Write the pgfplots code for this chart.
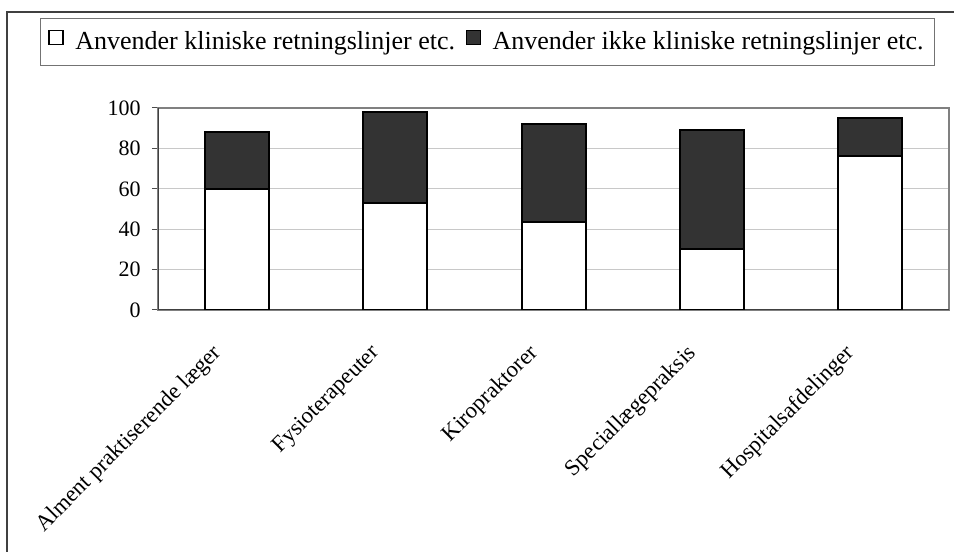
\documentclass[border=0pt]{standalone}
\usepackage{fontspec}
\setmainfont{Liberation Serif}
\usepackage{pgfplots}
\pgfplotsset{compat=1.18}
\definecolor{darkbar}{HTML}{333333}
\definecolor{gridc}{HTML}{C8C8C8}
\begin{document}
\begin{tikzpicture}
\useasboundingbox (0,0) rectangle (715.5pt,414pt);
\draw[black!75, line width=1.5pt] (5.25pt,-5pt) -- (5.25pt,405pt) -- (720pt,405pt);
\begin{axis}[
  at={(118.5pt,181.5pt)}, anchor=south west,
  scale only axis, width=593.25pt, height=151.5pt,
  ybar stacked, bar width=48pt,
  xmin=-0.5, xmax=4.5, ymin=0, ymax=100,
  xtick={0,1,2,3,4},
  xticklabels={Alment praktiserende læger,Fysioterapeuter,Kiropraktorer,Speciallægepraksis,Hospitalsafdelinger},
  minor xtick={-0.5,0.5,1.5,2.5,3.5,4.5},
  ytick={0,20,40,60,80,100},
  tick pos=left, tick align=outside,
  major tick length=4.5pt, minor tick length=4.5pt,
  xtick style={draw=none},
  minor tick style={black!70, line width=0.75pt},
  ytick style={black!70, line width=0.75pt},
  ymajorgrids, grid style={gridc, line width=0.75pt},
  axis line style={black!50, line width=1pt},
  /pgf/number format/assume math mode=true,
  ticklabel style={font=\fontsize{16.5}{19}\selectfont},
  yticklabel style={xshift=-5pt},
  xticklabel style={font=\fontsize{17}{20}\selectfont, xshift=-19.5pt, yshift=-20pt, rotate=45, anchor=north east, inner sep=0pt},
  legend columns=2,
  legend style={at={(-0.14918,1.44554)}, anchor=north west, draw=black!55, line width=0.75pt,
    font=\fontsize{19.5}{23}\selectfont, inner xsep=6pt, inner ysep=8pt,
    /tikz/every odd column/.append style={column sep=6.5pt},
    /tikz/every even column/.append style={column sep=6pt}},
  legend image code/.code={\draw[#1, line width=1.1pt] (0pt,-2pt) rectangle (10.5pt,8.5pt);},
]
\addplot[fill=white, draw=black, line width=1.5pt] coordinates {(0,60) (1,53) (2,43.5) (3,30) (4,76)};
\addlegendentry{Anvender kliniske retningslinjer etc.}
\addplot[fill=darkbar, draw=black, line width=1.5pt] coordinates {(0,28) (1,45) (2,48.5) (3,59) (4,19)};
\addlegendentry{Anvender ikke kliniske retningslinjer etc.}
\draw[black!75, line width=1.5pt] (rel axis cs:0,1) -- (rel axis cs:0,0) -- (rel axis cs:1,0);
\end{axis}
\end{tikzpicture}
\end{document}
